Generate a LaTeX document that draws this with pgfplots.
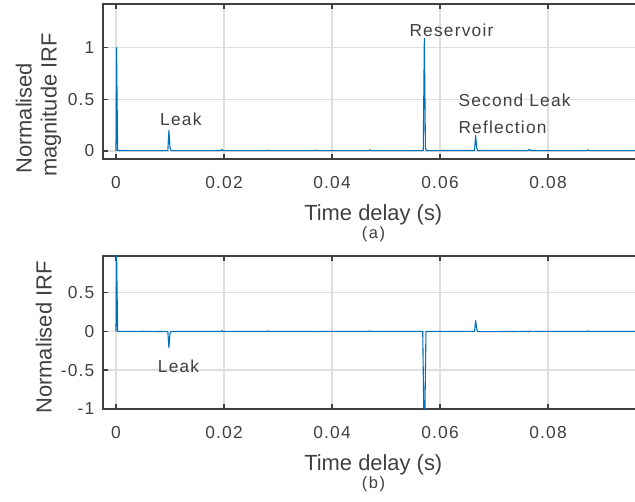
\documentclass[border=0pt]{standalone}
\usepackage{fontspec}
\setmainfont{Liberation Sans}
\newfontfamily\spaced[LetterSpace=7]{Liberation Sans}
\newfontfamily\spacedb[LetterSpace=10]{Liberation Sans}
\usepackage{pgfplots}
\pgfplotsset{compat=1.18}
\definecolor{mblue}{HTML}{0072BD}
\definecolor{txt}{HTML}{404040}
\definecolor{gridc}{HTML}{DEDEDE}
\newcommand{\tickfont}{\spaced\fontsize{17.4}{20}\selectfont}
\newcommand{\annfont}{\spaced\fontsize{17.4}{20}\selectfont}
\newcommand{\labfont}{\fontsize{22}{26}\selectfont}
\pgfplotsset{
  irf/.style={
    scale only axis,
    width=547bp,
    xmin=-0.002407, xmax=0.09889,
    xtick={0,0.02,0.04,0.06,0.08},
    xticklabels={0,0.02,0.04,0.06,0.08},
    scaled x ticks=false,
    scaled y ticks=false,
    grid=major,
    major grid style={color=gridc, line width=1.5bp},
    axis line style={color=txt, line width=2bp},
    tick style={color=txt, line width=1.6bp},
    major tick length=5bp,
    tick align=inside,
    ytick pos=left,
    tick label style={font=\tickfont, text=txt, inner sep=0pt},
    xticklabel style={anchor=base, yshift=-29.7bp},
    yticklabel style={anchor=east, xshift=-8.5bp},
    clip=true,
  },
  sig/.style={color=mblue, no markers, line width=1.1bp, line join=round},
}
\begin{document}
\begin{tikzpicture}[x=1bp,y=1bp]
\useasboundingbox (0,0) rectangle (635,502);
% top panel
\begin{axis}[irf,
  at={(103bp,498bp)}, anchor=north west,
  height=155bp,
  ymin=-0.0774, ymax=1.423,
  ytick={0,0.5,1},
  yticklabels={0,0.5,1},
]
\addplot[sig] coordinates {
(0,0) (0.0001,1.0) (0.0003,0.005) (0.0050,0.003)
(0.0096,0.004) (0.0098,0.20) (0.0100,0.03) (0.0102,0.004)
(0.0194,0.004) (0.0196,0.016) (0.0198,0.004)
(0.0280,0.003) (0.0282,0.008) (0.0284,0.003)
(0.0370,0.004) (0.0372,0.008) (0.0374,0.003)
(0.0468,0.004) (0.0470,0.012) (0.0472,0.003)
(0.0569,0.004) (0.0571,1.09) (0.0573,0.03) (0.0575,0.004)
(0.0664,0.005) (0.0666,0.15) (0.0668,0.03) (0.0670,0.005)
(0.0762,0.004) (0.0764,0.014) (0.0766,0.004) (0.0768,0.010) (0.0770,0.004)
(0.0872,0.004) (0.0874,0.012) (0.0876,0.004)
(0.0960,0.003) (0.0962,0.008) (0.0964,0.003) (0.0990,0.003)
};
\end{axis}
% bottom panel
\begin{axis}[irf,
  at={(103bp,246.3bp)}, anchor=north west,
  height=153.3bp,
  ymin=-1, ymax=0.975,
  ytick={-1,-0.5,0,0.5},
  yticklabels={-1,-0.5,0,0.5},
]
\addplot[sig] coordinates {
(0,0) (0.0001,1.05) (0.0003,0.0) (0.0050,0.001)
(0.0096,-0.003) (0.0098,-0.21) (0.0100,-0.03) (0.0102,0.0)
(0.0194,0.0) (0.0196,0.009) (0.0198,0.0)
(0.0280,0.0) (0.0282,0.005) (0.0284,0.0)
(0.0370,0.0) (0.0372,-0.005) (0.0374,0.0)
(0.0468,0.0) (0.0470,0.008) (0.0472,0.0)
(0.0568,0.0) (0.0570,-1.05) (0.0572,-1.05) (0.0574,0.0)
(0.0664,0.0) (0.0666,0.14) (0.0668,0.03) (0.0670,-0.004)
(0.0762,0.0) (0.0764,-0.008) (0.0766,0.006) (0.0768,0.0)
(0.0872,0.0) (0.0874,0.008) (0.0876,0.0)
(0.0960,0.0) (0.0962,0.005) (0.0964,0.0) (0.0990,0.0)
};
\end{axis}
% annotations
\node[anchor=base west, inner sep=0pt, text=txt, font=\annfont] at (160,376) {Leak};
\node[anchor=base west, inner sep=0pt, text=txt, font=\annfont] at (409.3,465.3) {Reservoir};
\node[anchor=base west, inner sep=0pt, text=txt, font=\annfont] at (458.3,395.3) {Second Leak};
\node[anchor=base west, inner sep=0pt, text=txt, font=\annfont] at (458.3,368.7) {Reflection};
\node[anchor=base west, inner sep=0pt, text=txt, font=\annfont] at (157.7,129.3) {Leak};
% axis labels
\node[anchor=base, inner sep=0pt, text=txt, font=\labfont] at (373.3,281.5) {Time delay (s)};
\node[anchor=base, inner sep=0pt, text=txt, font=\labfont] at (373.3,31.3) {Time delay (s)};
\node[anchor=base, inner sep=0pt, text=txt, font={\spacedb\fontsize{16.5}{18}\selectfont}] at (373.5,263.5) {(a)};
\node[anchor=base, inner sep=0pt, text=txt, font={\spacedb\fontsize{16.5}{18}\selectfont}] at (373.5,13.5) {(b)};
\node[anchor=base, rotate=90, inner sep=0pt, text=txt, font=\labfont] at (31.7,383.7) {Normalised};
\node[anchor=base, rotate=90, inner sep=0pt, text=txt, font=\labfont] at (56.5,397) {magnitude IRF};
\node[anchor=base, rotate=90, inner sep=0pt, text=txt, font=\labfont] at (51.7,164.5) {Normalised IRF};
\end{tikzpicture}
\end{document}
